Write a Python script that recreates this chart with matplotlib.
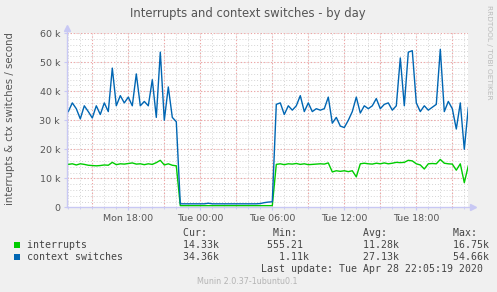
import matplotlib
matplotlib.use("Agg")
import matplotlib.pyplot as plt
import numpy as np

# samples every 20 minutes, starting Mon 13:00 (hours since Mon 00:00)
start_hour = 13.0
step_hours = 1 / 3

ctx_k = [33, 36, 34, 30.5, 35, 33, 30.8, 35, 32, 36,
         33, 48, 35, 38.5, 36, 38, 35, 46, 35, 36.5,
         35, 44, 31, 53.5, 30, 41.5, 31, 29.5,
         1.2, 1.2, 1.2, 1.2, 1.2, 1.2, 1.2, 1.4, 1.2, 1.2,
         1.2, 1.2, 1.2, 1.2, 1.2, 1.2, 1.2, 1.2, 1.2, 1.2,
         1.3, 1.6, 1.8, 1.9,
         35.5, 36, 32, 35, 33.5, 35, 38.5, 33, 36, 33,
         34, 33.5, 34, 38, 29, 31, 28, 27.5, 30, 33,
         38, 32.5, 35, 34, 35, 37.5, 34, 35.5, 36, 33.5,
         35, 51.5, 35, 53.5, 54, 36, 33, 35, 33.5, 34.5,
         35.5, 54.5, 33, 36.5, 34, 27, 36, 20, 34.4]

irq_k = [14.8, 15.0, 14.6, 15.0, 14.8, 14.5, 14.4, 14.3, 14.4, 14.6,
         14.5, 15.5, 14.7, 15.0, 14.9, 15.1, 15.3, 14.9, 15.0, 14.7,
         15.0, 14.8, 15.4, 16.2, 14.6, 15.0, 14.5, 14.3,
         0.56, 0.56, 0.56, 0.56, 0.56, 0.56, 0.56, 0.56, 0.56, 0.56,
         0.56, 0.56, 0.56, 0.56, 0.56, 0.56, 0.56, 0.56, 0.56, 0.56,
         0.56, 0.56, 0.56, 0.56,
         14.8, 15.0, 14.7, 15.0, 14.9, 15.1, 14.8, 15.0, 14.7, 14.8,
         14.9, 15.0, 14.9, 15.3, 12.2, 12.6, 12.4, 12.6, 12.3, 12.6,
         10.5, 15.0, 15.2, 15.0, 14.9, 15.2, 15.0, 15.3, 15.0, 15.2,
         15.5, 15.4, 15.5, 16.2, 16.0, 15.0, 14.6, 13.2, 15.0, 15.1,
         15.0, 16.5, 15.2, 15.0, 14.9, 12.8, 15.0, 8.5, 14.3]

tick_hours = [18, 24, 30, 36, 42]
tick_labels = ['Mon 18:00', 'Tue 00:00', 'Tue 06:00', 'Tue 12:00', 'Tue 18:00']

series_names = ['interrupts', 'context switches']
series_colors = ['#00CC00', '#0066B3']
cur_vals = ['14.33k', '34.36k']
min_vals = ['555.21', '  1.11k']
avg_vals = ['11.28k', '27.13k']
max_vals = ['16.75k', '54.66k']

hours = start_hour + np.arange(len(ctx_k)) * step_hours
ctx = np.array(ctx_k) * 1000
irq = np.array(irq_k) * 1000

W, H = 497, 292
fig = plt.figure(figsize=(W / 100, H / 100), dpi=100)
fig.patch.set_facecolor('#F0F0F0')

x0, x1, ytop, ybot = 67, 468, 33.3, 207.3
ax = fig.add_axes([x0 / W, 1 - ybot / H, (x1 - x0) / W, (ybot - ytop) / H])
ax.set_facecolor('white')
ax.set_xlim(18 + (x0 - 128.3) / 12, 18 + (x1 - 128.3) / 12)
ax.set_ylim(0, 60000)

# grid
for h in range(13, 47):
    ax.axvline(h, color='#D4D4D4', lw=0.7, ls=(0, (1, 2)), zorder=0)
for v in range(0, 60001, 2000):
    ax.axhline(v, color='#D4D4D4', lw=0.7, ls=(0, (1, 2)), zorder=0)
for h in range(15, 47, 3):
    ax.axvline(h, color='#F2A0A0', lw=0.8, ls=(0, (1, 2)), zorder=0)
for v in range(10000, 60001, 10000):
    ax.axhline(v, color='#F2A0A0', lw=0.8, ls=(0, (1, 2)), zorder=0)

ax.plot(hours, irq, color=series_colors[0], lw=1.0, zorder=3)
ax.plot(hours, ctx, color=series_colors[1], lw=1.0, zorder=3)

for s in ax.spines.values():
    s.set_visible(False)
axis_col = '#C8C8F4'
ax.plot([0, 1.012], [0, 0], transform=ax.transAxes, color=axis_col, lw=1, clip_on=False, zorder=4)
ax.plot([0, 0], [0, 1.03], transform=ax.transAxes, color=axis_col, lw=1, clip_on=False, zorder=4)
ax.plot([1.012], [0], marker='>', ms=4, color=axis_col, transform=ax.transAxes, clip_on=False)
ax.plot([0], [1.03], marker='^', ms=4, color=axis_col, transform=ax.transAxes, clip_on=False)

ax.set_xticks(tick_hours)
ax.set_xticklabels(tick_labels)
ax.set_xticks(range(13, 47), minor=True)
yt = list(range(0, 60001, 10000))
ax.set_yticks(yt)
ax.set_yticklabels(['0' if v == 0 else f'{v // 1000} k' for v in yt])
ax.tick_params(which='both', length=2, color=axis_col, labelsize=6.8,
               labelcolor='#555555', pad=3)
ax.tick_params(which='minor', length=1.5)

fig.text(247.5 / W, 1 - 13.5 / H, 'Interrupts and context switches - by day',
         ha='center', va='center', fontsize=8.4, color='#555555')
fig.text(10 / W, 1 - 119 / H, 'interrupts & ctx switches / second',
         rotation=90, ha='center', va='center', fontsize=7.3, color='#555555')
fig.text(489 / W, 1 - 5 / H, 'RRDTOOL / TOBI OETIKER', rotation=270,
         ha='center', va='top', fontsize=5.3, color='#BBBBBB')

mono = dict(family='DejaVu Sans Mono', fontsize=7.1, color='#444444', va='center')
cw = 5.94
tx = 26.7
header = ' ' * 26 + 'Cur:' + ' ' * 11 + 'Min:' + ' ' * 11 + 'Avg:' + ' ' * 11 + 'Max:'
fig.text(tx / W, 1 - 232.7 / H, header, **mono)
rows_y = [244.5, 256.7]
for i in range(2):
    line = (series_names[i].ljust(25) + ' ' + cur_vals[i].rjust(6)).ljust(40)
    line = line + min_vals[i].ljust(16) + avg_vals[i].ljust(15) + max_vals[i]
    fig.text(tx / W, 1 - rows_y[i] / H, line, **mono)
    fig.patches.append(plt.Rectangle(((14) / W, 1 - (rows_y[i] + 3) / H), 6 / W, 6 / H,
                                     transform=fig.transFigure, facecolor=series_colors[i],
                                     edgecolor='none'))
fig.text(482.7 / W, 1 - 269 / H, 'Last update: Tue Apr 28 22:05:19 2020',
         ha='right', **{k: v for k, v in mono.items()})
fig.text(247.7 / W, 1 - 281 / H, 'Munin 2.0.37-1ubuntu0.1', ha='center', va='center',
         fontsize=5.8, color='#B4B4B4')

fig.savefig('out.png', dpi=100, facecolor=fig.get_facecolor())
